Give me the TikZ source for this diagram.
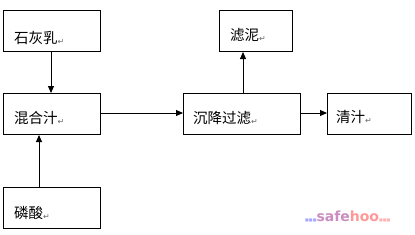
\documentclass[tikz,border=0pt]{standalone}
\usepackage{fontspec}
\setmainfont{Noto Sans CJK SC}
\newfontfamily\symfont{DejaVu Sans}
\usetikzlibrary{arrows.meta}
\newcommand{\parmark}{\raisebox{-1pt}{\symfont\fontsize{8}{8}\selectfont\color{black!60}↵}}
\begin{document}
\begin{tikzpicture}[x=1pt,y=-1pt,
  box/.style={draw,line width=1pt,minimum width=97pt,minimum height=41pt,anchor=north west,inner sep=0pt},
  lbl/.style={anchor=west,font=\fontsize{14.5}{15}\selectfont,inner sep=0pt},
  arr/.style={line width=0.9pt,-{Triangle[length=7pt,width=6pt]}}]
\useasboundingbox (0,0) rectangle (415,234);
\node[box] (b1) at (3,10) {};
\node[box] (b2) at (3,93) {};
\node[box] (b3) at (3,187) {};
\node[box,minimum width=73pt] (b4) at (219,10) {};
\node[box,minimum width=117pt] (b5) at (183,93) {};
\node[box,minimum width=84pt] (b6) at (327,93) {};
\node[lbl] (t1) at (14,38) {石灰乳\parmark};
\node[lbl] (t2) at (14,118) {混合汁\parmark};
\node[lbl] (t3) at (14,213) {磷酸\parmark};
\node[lbl] (t4) at (230,35) {滤泥\parmark};
\node[lbl] (t5) at (193,118) {沉降过滤\parmark};
\node[lbl] (t6) at (336,117) {清汁\parmark};
\draw[arr] (b1.south -| 51,0) -- (b2.north -| 51,0);
\draw[arr] (b3.north -| 39,0) -- (b2.south -| 39,0);
\draw[arr] (b2.east |- 0,113) -- (b5.west |- 0,113);
\draw[arr] (b5.north -| 243,0) -- (b4.south -| 243,0);
\draw[arr] (b5.east |- 0,113) -- (b6.west |- 0,113);
\node[anchor=west,inner sep=0pt,font=\symfont\bfseries\fontsize{14}{14}\selectfont] (wm) at (305,216)
  {\textcolor{blue!35}{\fontsize{4}{4}\selectfont ■■■}\textcolor{blue!45!red!45}{safe}\textcolor{red!40}{hoo}\textcolor{red!30}{\fontsize{4}{4}\selectfont ■■■}};
\end{tikzpicture}
\end{document}
